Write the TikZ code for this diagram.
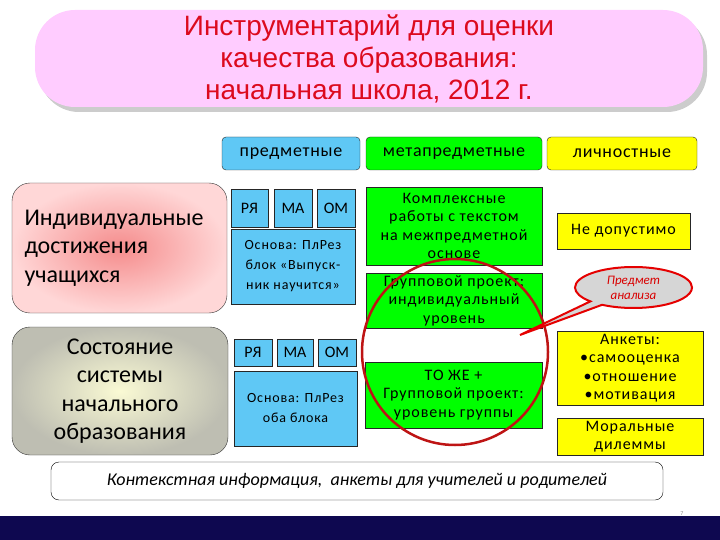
\documentclass[tikz,border=0pt]{standalone}
\usepackage{fontspec}
\setmainfont{Carlito}
\newfontfamily\boxfont{Carlito}[LetterSpace=6]
\newfontfamily\headfont{Carlito}[LetterSpace=4]
\newfontfamily\titlefont{Liberation Sans}
\usetikzlibrary{positioning,shapes.callouts,shadows}
\definecolor{titlepink}{RGB}{255,204,255}
\definecolor{titlered}{RGB}{220,10,30}
\definecolor{predblue}{RGB}{95,200,245}
\definecolor{metagreen}{RGB}{0,255,0}
\definecolor{lichyellow}{RGB}{255,255,0}
\definecolor{ringred}{RGB}{190,20,20}
\definecolor{navy}{RGB}{14,8,80}
\tikzset{
 box/.style={draw=black!85,thin,align=center,inner sep=1pt},
 pred/.style={box,fill=predblue},
 meta/.style={box,fill=metagreen},
 lich/.style={box,fill=lichyellow},
 head/.style={rounded corners=4pt,minimum height=33pt,font=\headfont\fontsize{18}{20}\selectfont},
 small/.style={minimum width=37pt,font=\fontsize{16}{18}\selectfont},
 basis/.style={minimum width=124pt,minimum height=75pt,font=\boxfont\fontsize{14}{20}\selectfont},
 body/.style={font=\boxfont\fontsize{16}{18.5}\selectfont},
 big/.style={draw=black!80,rounded corners=18pt,minimum width=215pt,minimum height=130pt,
   font=\fontsize{24}{28.5}\selectfont,shading=radial},
 titlebox/.style={fill=titlepink,rounded corners=40pt,minimum width=668pt,minimum height=97pt,
   align=center,text=titlered,font=\titlefont\fontsize{28}{32}\selectfont,
   drop shadow={shadow xshift=4pt,shadow yshift=-5pt,fill=black!20,opacity=1}},
 ring/.style={circle,draw=ringred,line width=2.5pt,minimum size=186pt},
 bubble/.style={ellipse callout,draw=red!90!black,line width=2pt,fill=black!16,
   minimum width=117pt,minimum height=41pt,inner sep=0pt,align=center,text=red!85!black,
   font=\itshape\fontsize{13}{15}\selectfont},
 note/.style={draw=black,rounded corners=8pt,minimum width=612pt,minimum height=38pt,
   font=\itshape\fontsize{18}{20}\selectfont}}

\begin{document}
\begin{tikzpicture}[x=1pt,y=-1pt]
\useasboundingbox (0,0) rectangle (720,540);
% title
\node[titlebox] (title) at (369,58.5) {Инструментарий для оценки\\качества образования:\\начальная школа, 2012 г.};
% column heads
\node[pred,head,minimum width=138pt] (pred) at (291,153.5) {предметные};
\node[meta,head,minimum width=176pt] (meta) at (454,153.5) {метапредметные};
\node[lich,head,minimum width=150pt] (lich) at (622,153.5) {личностные};
% individual level
\node[big,inner color={rgb,255:red,245;green,140;blue,140},outer color={rgb,255:red,255;green,215;blue,215},
  text width=190pt,inner xsep=12.5pt,align=left] (indiv) at (119.5,248) {Индивидуальные\\достижения\\учащихся};
\node[pred,small,minimum height=38pt] (rya1) at (249.5,208) {РЯ};
\node[pred,small,minimum height=38pt,minimum width=38pt] (ma1) at (293,208) {МА};
\node[pred,small,minimum height=38pt,minimum width=38pt] (om1) at (336,208) {ОМ};
\node[pred,basis] (osn1) at (293,266.5) {Основа: ПлРез\\блок «Выпуск-\\ник научится»};
\node[meta,body,minimum width=176pt,minimum height=78pt] (kompl) at (454,226) {Комплексные\\работы с текстом\\на межпредметной\\основе};
\node[meta,body,minimum width=176pt,minimum height=55pt] (grupp) at (454,300.5) {Групповой проект:\\индивидуальный\\уровень};
\node[lich,body,minimum width=133pt,minimum height=36pt] (nedop) at (623.5,231) {Не допустимо};
% system level
\node[big,inner color={rgb,255:red,250;green,250;blue,212},outer color={rgb,255:red,190;green,190;blue,178},
  minimum width=216pt,minimum height=128pt,align=center] (sost) at (120,391) {Состояние\\системы\\начального\\образования};
\node[pred,small,minimum height=27pt,minimum width=38pt] (rya2) at (253,352.5) {РЯ};
\node[pred,small,minimum height=27pt,minimum width=36pt] (ma2) at (295,352.5) {МА};
\node[pred,small,minimum height=27pt,minimum width=38pt] (om2) at (337,352.5) {ОМ};
\node[pred,basis,minimum width=123pt] (osn2) at (295.5,408.5) {Основа: ПлРез\\оба блока};
\node[meta,body,minimum width=177pt,minimum height=66pt] (toje) at (453.5,395) {ТО ЖЕ +\\Групповой проект:\\уровень группы};
\node[lich,body,minimum width=146pt,minimum height=74pt] (ankety) at (630,368) {Анкеты:\\•самооценка\\•отношение\\•мотивация};
\node[lich,body,minimum width=146pt,minimum height=37pt] (moral) at (630,436.5) {Моральные\\дилеммы};
% focus
\node[ring] (focus) at (455,352) {};
\coordinate (tip) at (520,335);
\node[bubble,callout absolute pointer={(tip)}] (anal) at (633.5,287.5) {Предмет\\анализа};
\node[note] (kontekst) at (357,481) {Контекстная информация,~ анкеты для учителей и родителей};
% footer band
\node[text=black!45,font=\fontsize{6}{6}\selectfont] (pnum) at (682,514) {7};
\fill[navy] (0,516) rectangle (720,540);
\end{tikzpicture}
\end{document}
